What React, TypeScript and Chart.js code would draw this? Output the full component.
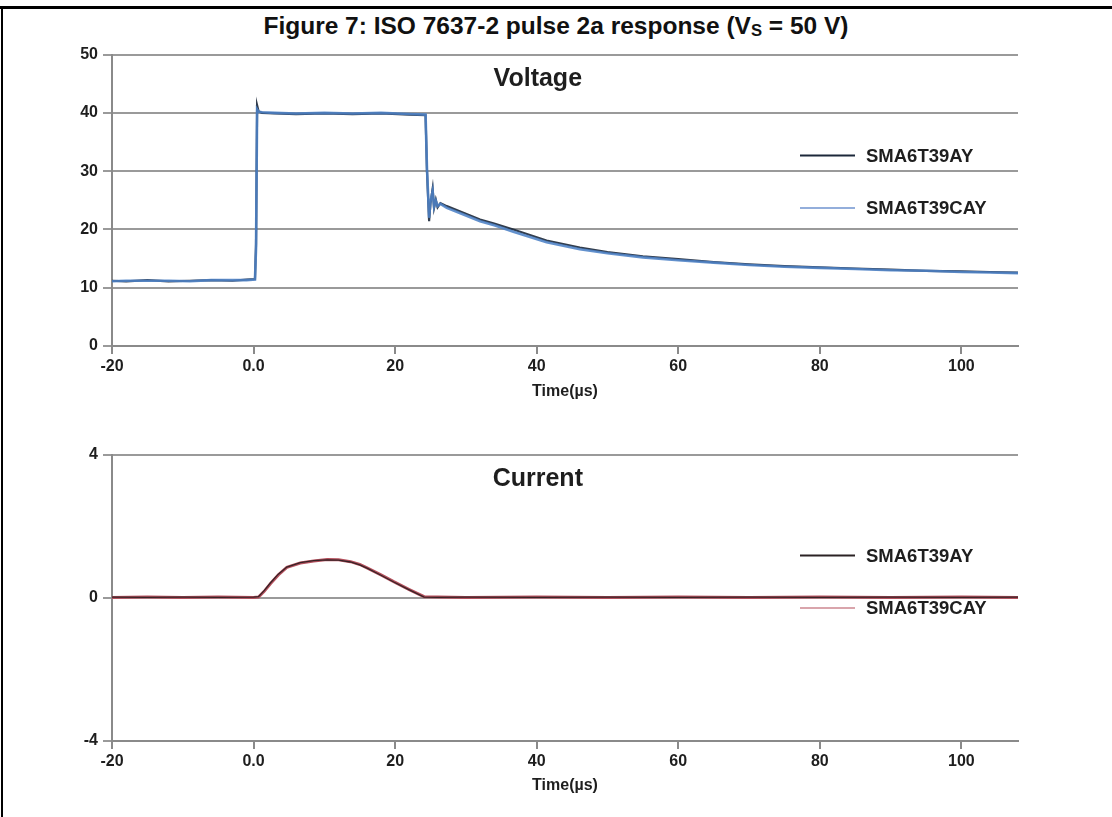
import React, { useEffect, useRef } from "react";
import { Chart, registerables } from "chart.js";

Chart.register(...registerables);

// ---------- data ----------
const seriesNames = ["SMA6T39AY", "SMA6T39CAY"];
const xTicks = [-20, 0, 20, 40, 60, 80, 100];
const voltageTicks = [0, 10, 20, 30, 40, 50];
const currentTicks = [-4, 0, 4];

const timeV = [
  -20, -18, -15, -12, -9, -6, -3, -1, 0.2, 0.35, 0.5, 0.7, 1.2, 3, 6, 10, 14, 18, 22,
  24.3, 24.5, 24.8, 25.0, 25.3, 25.5, 25.75, 26.0, 26.4, 27.3, 30, 32, 34, 36.7, 41.4,
  46.1, 50, 55, 60, 65, 70, 75, 80, 85, 90, 95, 100, 104, 108,
];
const voltAY = [
  11.2, 11.1, 11.3, 11.1, 11.2, 11.3, 11.2, 11.4, 11.5, 17.5, 41.3, 40.3, 40.0, 39.9, 39.8,
  39.9, 39.8, 39.9, 39.7, 39.6, 30.0, 21.4, 24.5, 27.0, 23.7, 25.1, 23.8, 24.5, 24.0, 22.7,
  21.7, 21.0, 20.0, 18.1, 16.9, 16.1, 15.4, 14.9, 14.4, 14.0, 13.7, 13.5, 13.3, 13.1, 12.9,
  12.8, 12.7, 12.6,
];
const voltCAY = [
  11.1, 11.2, 11.2, 11.2, 11.1, 11.3, 11.3, 11.3, 11.4, 16.8, 40.6, 40.2, 40.1, 40.0, 39.9,
  40.0, 39.9, 40.0, 39.8, 39.7, 30.5, 22.0, 24.8, 26.6, 23.9, 24.9, 24.0, 24.4, 23.7, 22.4,
  21.4, 20.7, 19.6, 17.8, 16.6, 15.9, 15.2, 14.7, 14.3, 13.9, 13.6, 13.4, 13.2, 13.0, 12.9,
  12.7, 12.6, 12.5,
];

const timeI = [
  -20, -15, -10, -5, 0, 0.7, 1.5, 2.4, 3.5, 4.7, 6.6, 8.5, 10.4, 12, 13.7, 15, 16.1, 18,
  19.8, 22, 24.1, 26, 30, 40, 50, 60, 70, 80, 90, 100, 108,
];
const currAY = [
  0.02, 0.01, 0.02, 0.01, 0.02, 0.03, 0.2, 0.42, 0.66, 0.86, 0.98, 1.04, 1.06, 1.05, 1.0,
  0.92, 0.82, 0.63, 0.44, 0.22, 0.02, 0.01, 0.02, 0.01, 0.02, 0.01, 0.02, 0.01, 0.02, 0.01,
  0.02,
];
const currCAY = [
  0.01, 0.02, 0.01, 0.02, 0.01, 0.02, 0.18, 0.4, 0.64, 0.85, 0.97, 1.03, 1.07, 1.06, 1.01,
  0.93, 0.83, 0.64, 0.45, 0.23, 0.03, 0.02, 0.01, 0.02, 0.01, 0.02, 0.01, 0.02, 0.01, 0.02,
  0.01,
];

// ---------- styles ----------
const FONT = "'Liberation Sans', Arial, Helvetica, sans-serif";
const GRID = "#9a9a9a";
const AXIS = "#8a8a8a";
const TEXT = "#1e1e1e";

const innerPlugin = {
  id: "innerDecor",
  afterDraw(chart: any, _args: any, opts: any) {
    const { ctx, chartArea } = chart;
    ctx.save();
    ctx.fillStyle = TEXT;
    ctx.font = `bold 25px ${FONT}`;
    ctx.textAlign = "center";
    ctx.textBaseline = "middle";
    ctx.fillText(
      opts.title,
      chartArea.left + (chartArea.right - chartArea.left) * 0.47,
      chartArea.top + 25
    );
    const rows = [chartArea.top + 101, chartArea.top + 153.5];
    const x0 = chartArea.left + 688;
    ctx.font = `bold 18.5px ${FONT}`;
    ctx.textAlign = "left";
    chart.data.datasets.forEach((ds: any, i: number) => {
      const y = rows[i];
      ctx.strokeStyle = opts.legendColors[i];
      ctx.lineWidth = opts.legendWidths[i];
      ctx.beginPath();
      ctx.moveTo(x0, y);
      ctx.lineTo(x0 + 55, y);
      ctx.stroke();
      ctx.fillStyle = TEXT;
      ctx.fillText(ds.label, x0 + 66, y + 1);
    });
    ctx.restore();
  },
};

function makeOptions(
  yMin: number,
  yMax: number,
  yTicks: number[],
  padTop: number,
  xHeight: number,
  titlePadBottom: number,
  title: string,
  legendColors: string[],
  legendWidths: number[]
): any {
  return {
    responsive: false,
    animation: false,
    devicePixelRatio: 1,
    layout: { padding: { top: padTop, right: 94, bottom: 0, left: 0 } },
    elements: { point: { radius: 0 }, line: { tension: 0 } },
    plugins: {
      legend: { display: false },
      tooltip: { enabled: false },
      title: { display: false },
      innerDecor: { title, legendColors, legendWidths },
    },
    scales: {
      x: {
        type: "linear",
        min: -20,
        max: 108,
        afterBuildTicks: (s: any) => {
          s.ticks = xTicks.map((v) => ({ value: v }));
        },
        afterFit: (s: any) => {
          s.height = xHeight;
        },
        ticks: {
          autoSkip: false,
          maxRotation: 0,
          padding: 3,
          color: TEXT,
          font: { family: FONT, size: 16, weight: "bold" },
          callback: (v: any) => (v === 0 ? "0.0" : String(v)),
        },
        grid: { drawOnChartArea: false, drawTicks: true, tickLength: 8, color: AXIS, lineWidth: 2 },
        border: { display: true, color: AXIS, width: 2 },
        title: {
          display: true,
          text: "Time(µs)",
          color: TEXT,
          font: { family: FONT, size: 16, weight: "bold" },
          padding: { top: 4, bottom: titlePadBottom },
        },
      },
      y: {
        type: "linear",
        min: yMin,
        max: yMax,
        afterBuildTicks: (s: any) => {
          s.ticks = yTicks.map((v) => ({ value: v }));
        },
        afterFit: (s: any) => {
          s.width = 112;
        },
        ticks: {
          autoSkip: false,
          padding: 5,
          color: TEXT,
          font: { family: FONT, size: 16, weight: "bold" },
        },
        grid: { drawOnChartArea: true, drawTicks: true, tickLength: 9, color: GRID, lineWidth: 2 },
        border: { display: true, color: AXIS, width: 2 },
      },
    },
  };
}

function toPoints(xs: number[], ys: number[]) {
  return xs.map((x, i) => ({ x, y: ys[i] }));
}

function ChartCanvas(props: { config: any; top: number; height: number }) {
  const ref = useRef<HTMLCanvasElement | null>(null);
  useEffect(() => {
    if (!ref.current) return;
    const chart = new Chart(ref.current, props.config);
    return () => chart.destroy();
  }, []);
  return (
    <canvas
      ref={ref}
      width={1112}
      height={props.height}
      style={{ position: "absolute", left: 0, top: props.top, width: 1112, height: props.height }}
    />
  );
}

export default function App() {
  const voltageConfig = {
    type: "line",
    data: {
      datasets: [
        {
          label: seriesNames[0],
          data: toPoints(timeV, voltAY),
          borderColor: "rgba(28,40,58,0.9)",
          borderWidth: 2.2,
          order: 2,
        },
        {
          label: seriesNames[1],
          data: toPoints(timeV, voltCAY),
          borderColor: "rgba(77,130,198,0.88)",
          borderWidth: 2.6,
          order: 1,
        },
      ],
    },
    options: makeOptions(0, 50, voltageTicks, 12, 64, 9, "Voltage", ["#1c283a", "#6f93cf"], [2, 1.5]),
    plugins: [innerPlugin],
  };

  const currentConfig = {
    type: "line",
    data: {
      datasets: [
        {
          label: seriesNames[0],
          data: toPoints(timeI, currAY),
          borderColor: "rgba(40,30,32,0.9)",
          borderWidth: 1.3,
        },
        {
          label: seriesNames[1],
          data: toPoints(timeI, currCAY),
          borderColor: "#b5505d",
          borderWidth: 3,
        },
      ],
    },
    options: makeOptions(-4, 4, currentTicks, 11, 64, 10, "Current", ["#2b2224", "#d9a5ac"], [2, 2]),
    plugins: [innerPlugin],
  };

  return (
    <div
      style={{
        position: "absolute",
        left: 0,
        top: 0,
        width: 1112,
        height: 817,
        background: "#fff",
        overflow: "hidden",
      }}
    >
      <div
        style={{
          position: "absolute",
          left: 0,
          top: 6,
          width: 1112,
          height: 3,
          background: "#000",
        }}
      />
      <div
        style={{
          position: "absolute",
          left: 1,
          top: 6,
          width: 2,
          height: 811,
          background: "#000",
        }}
      />
      <div
        style={{
          position: "absolute",
          left: 0,
          top: 12,
          width: 1112,
          textAlign: "center",
          fontFamily: FONT,
          fontWeight: "bold",
          fontSize: 24.5,
          lineHeight: "28px",
          color: "#111",
        }}
      >
        Figure 7: ISO 7637-2 pulse 2a response (V
        <span style={{ fontSize: "0.68em", verticalAlign: "-0.12em" }}>S</span> = 50 V)
      </div>
      <ChartCanvas config={voltageConfig} top={40} height={370} />
      <ChartCanvas config={currentConfig} top={440} height={365} />
    </div>
  );
}
